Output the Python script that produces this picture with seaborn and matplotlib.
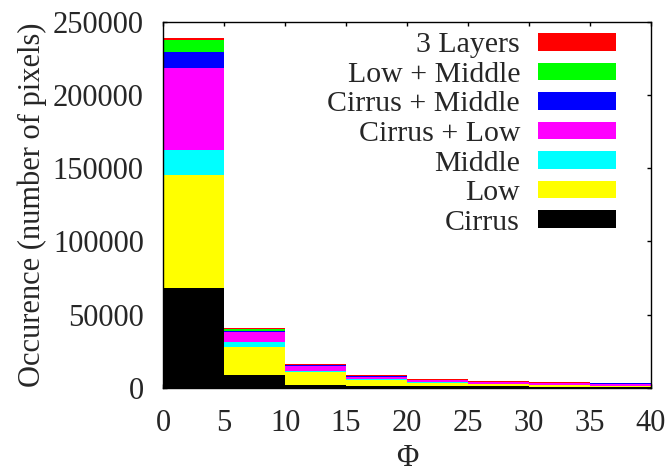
import numpy as np
import pandas as pd
import matplotlib
matplotlib.use("Agg")
import matplotlib.pyplot as plt
import seaborn as sns
from matplotlib.patches import Patch

# ---- data ----
bin_edges = [0, 5, 10, 15, 20, 25, 30, 35, 40]
bin_centers = [2.5, 7.5, 12.5, 17.5, 22.5, 27.5, 32.5, 37.5]
categories = ["3 Layers", "Low + Middle", "Cirrus + Middle", "Cirrus + Low",
              "Middle", "Low", "Cirrus"]
three_layers = [1100, 700, 500, 300, 200, 200, 100, 100]
low_middle = [8700, 1100, 400, 300, 200, 200, 200, 200]
cirrus_middle = [10900, 900, 400, 300, 200, 300, 300, 300]
cirrus_low = [55500, 6600, 3400, 1600, 1200, 1200, 1100, 1100]
middle = [17100, 3400, 1100, 600, 400, 300, 200, 200]
low = [77200, 19100, 8400, 3900, 2300, 1200, 900, 600]
cirrus = [68300, 8900, 2000, 1500, 1200, 1000, 800, 700]
colors = ["#ff0000", "#00ff00", "#0000ff", "#ff00ff", "#00ffff", "#ffff00", "#000000"]
x_ticks = [0, 5, 10, 15, 20, 25, 30, 35, 40]
y_ticks = [0, 50000, 100000, 150000, 200000, 250000]

series = [three_layers, low_middle, cirrus_middle, cirrus_low, middle, low, cirrus]
rows = []
for cat, vals in zip(categories, series):
    for xc, v in zip(bin_centers, vals):
        rows.append({"phi": xc, "count": v, "type": cat})
df = pd.DataFrame(rows)

sns.set_style("ticks")
plt.rcParams["font.family"] = ["Liberation Serif", "DejaVu Serif"]

fig = plt.figure(figsize=(6.72, 4.72), dpi=100)
ax = fig.add_axes([163.3 / 672, (472 - 387.7) / 472, 487.4 / 672, 366 / 472])

sns.histplot(data=df, x="phi", weights="count", hue="type", hue_order=categories,
             multiple="stack", bins=bin_edges, palette=colors, alpha=1,
             linewidth=0, legend=False, ax=ax)

ax.set_xlim(0, 40)
ax.set_ylim(0, 250000)
ax.set_xticks(x_ticks)
ax.set_yticks(y_ticks)
ax.set_xticklabels([str(t) for t in x_ticks])
ax.set_yticklabels([str(t) for t in y_ticks])
fs = 22
ax.tick_params(axis="both", direction="in", length=3, width=1, labelsize=fs,
               top=True, right=True, color="black")
ax.tick_params(axis="y", pad=14)
ax.tick_params(axis="x", pad=15)
for sp in ax.spines.values():
    sp.set_visible(True)
    sp.set_color("black")
    sp.set_linewidth(1.0)

ax.set_xlabel("Φ", fontsize=fs, labelpad=5)
ax.set_ylabel("Occurence (number of pixels)", fontsize=fs, labelpad=4)

handles = [Patch(facecolor=c, edgecolor="none") for c in colors]
lfs = 21.5
leg = ax.legend(handles, categories, loc="upper right",
                bbox_to_anchor=(0.928, 0.971), markerfirst=False, frameon=False,
                fontsize=lfs, handlelength=2.6, handleheight=0.53,
                handletextpad=0.6, labelspacing=0.12, borderaxespad=0.0,
                borderpad=0.0)

fig.savefig("out.png", dpi=100)
